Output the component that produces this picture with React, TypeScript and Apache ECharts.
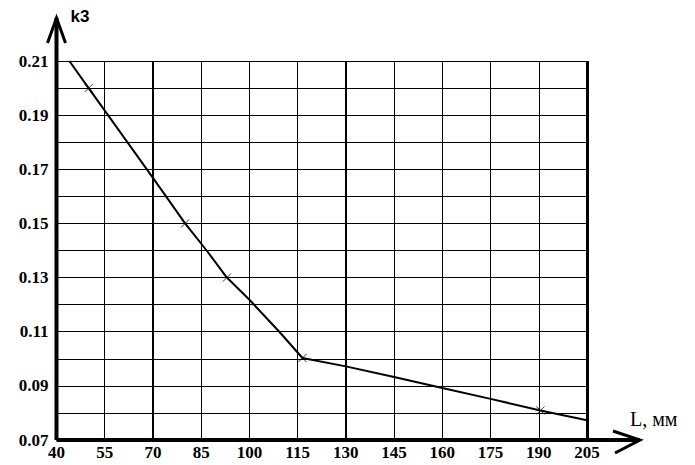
import React, { useEffect, useRef } from "react";
import * as echarts from "echarts";

// curve k3(L)
const curveL = [44, 50, 70, 80, 86.7, 93, 100, 109.3, 116.5, 130, 145, 160, 175, 190.5, 205];
const curveK = [0.21, 0.2, 0.1668, 0.15, 0.14, 0.13, 0.1218, 0.11, 0.1003, 0.0972, 0.0933, 0.0892, 0.0852, 0.0809, 0.0773];
// "x" markers
const markL = [50, 80, 93, 116.5, 190.5];
const markK = [0.2, 0.15, 0.13, 0.1003, 0.0809];
// tick labels
const xTicks = [40, 55, 70, 85, 100, 115, 130, 145, 160, 175, 190, 205];
const yTicks = [0.07, 0.09, 0.11, 0.13, 0.15, 0.17, 0.19, 0.21];
const boldGrid = [70, 130];
const edgeGrid = [205];

export default function App() {
  const ref = useRef<HTMLDivElement>(null);
  useEffect(() => {
    const chart = echarts.init(ref.current!, null, { renderer: "svg" });
    const labelFont = {
      fontFamily: "Liberation Serif",
      fontWeight: "bold" as const,
      fontSize: 17,
      color: "#000",
    };
    chart.setOption({
      animation: false,
      backgroundColor: "#fff",
      grid: { left: 56.5, right: 108, top: 61, bottom: 25, containLabel: false },
      xAxis: {
        type: "value",
        min: xTicks[0],
        max: xTicks[xTicks.length - 1],
        interval: 15,
        axisLine: { show: false },
        axisTick: { show: false },
        axisLabel: { ...labelFont, margin: 4, formatter: (v: number) => String(v) },
        splitLine: { show: true, lineStyle: { color: "#000", width: 1 } },
      },
      yAxis: {
        type: "value",
        min: 0.07,
        max: 0.21,
        interval: 0.01,
        axisLine: { show: false },
        axisTick: { show: false },
        axisLabel: {
          ...labelFont,
          margin: 8,
          formatter: (v: number) =>
            yTicks.some((t) => Math.abs(t - v) < 1e-6) ? v.toFixed(2) : "",
        },
        splitLine: { show: true, lineStyle: { color: "#000", width: 1 } },
      },
      series: [
        {
          type: "line",
          data: curveL.map((l, i) => [l, curveK[i]]),
          showSymbol: false,
          lineStyle: { color: "#000", width: 2 },
          markLine: {
            silent: true,
            symbol: ["none", "none"],
            label: { show: false },
            lineStyle: { color: "#000", width: 2, type: "solid" },
            data: [
              ...boldGrid.map((v) => ({ xAxis: v })),
              ...edgeGrid.map((v) => ({ xAxis: v, lineStyle: { width: 3, color: "#000", type: "solid" } })),
            ],
          },
        },
        {
          type: "scatter",
          data: markL.map((l, i) => [l, markK[i]]),
          symbol: "path://M0,0L10,10M10,0L0,10",
          symbolSize: 8,
          itemStyle: { color: "none", borderColor: "#000", borderWidth: 1 },
        },
      ],
    });

    const o = chart.convertToPixel({ gridIndex: 0 }, [xTicks[0], 0.07]) as number[];
    const t = chart.convertToPixel({ gridIndex: 0 }, [xTicks[0], 0.21]) as number[];
    const r = chart.convertToPixel({ gridIndex: 0 }, [xTicks[xTicks.length - 1], 0.07]) as number[];
    const yTip = t[1] - 43;
    const xTip = r[0] + 53;
    const ax = { stroke: "#000", lineWidth: 4 };
    const arrow = { stroke: "#000", lineWidth: 3 };
    chart.setOption({
      graphic: [
        { type: "line", shape: { x1: o[0], y1: o[1], x2: o[0], y2: yTip }, style: ax, z: 10 },
        { type: "line", shape: { x1: o[0], y1: o[1], x2: xTip, y2: o[1] }, style: ax, z: 10 },
        { type: "polyline", shape: { points: [[o[0] - 9, yTip + 25], [o[0], yTip], [o[0] + 9, yTip + 25]] }, style: { ...arrow, fill: "none" }, z: 10 },
        { type: "polyline", shape: { points: [[xTip - 27, o[1] - 9], [xTip, o[1]], [xTip - 25, o[1] + 13]] }, style: { ...arrow, fill: "none" }, z: 10 },
        {
          type: "text",
          x: o[0] + 14,
          y: yTip - 10,
          style: { text: "k3", font: "bold 17px 'Liberation Sans'", fill: "#000" },
        },
        {
          type: "text",
          x: xTip - 10,
          y: o[1] - 31,
          style: { text: "L, мм", font: "20px 'Liberation Serif'", fill: "#000" },
        },
      ],
    });
    return () => chart.dispose();
  }, []);
  return (
    <div
      ref={ref}
      style={{ position: "fixed", left: 0, top: 0, width: 695, height: 465, background: "#fff" }}
    />
  );
}
